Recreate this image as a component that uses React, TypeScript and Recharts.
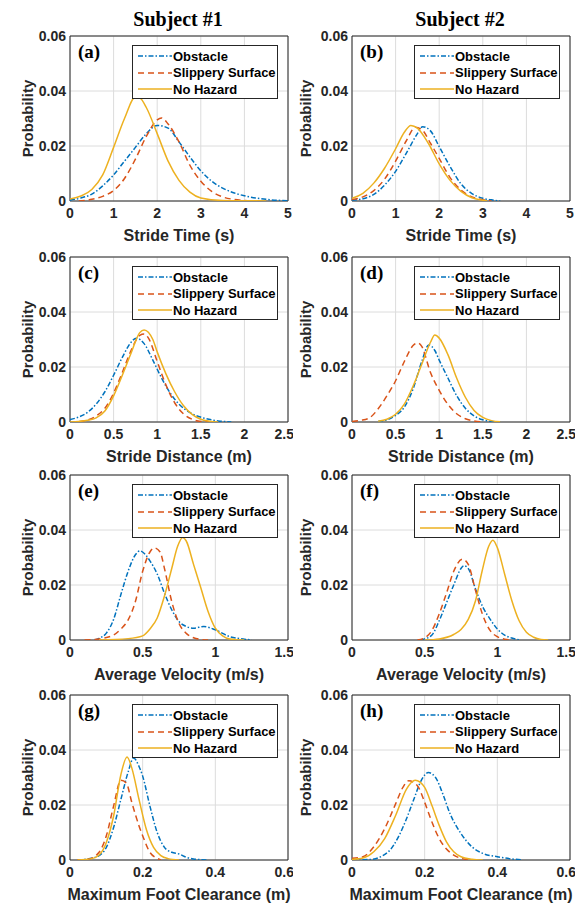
import React from "react";
import { LineChart, Line, XAxis, YAxis, CartesianGrid, ReferenceArea, Legend } from "recharts";

// ---- data: [x, probability] ----
const A_OBS = [[0, 0.0003], [0.25, 0.0011], [0.5, 0.0025], [0.75, 0.0055], [1, 0.0095], [1.25, 0.0145], [1.5, 0.0195], [1.75, 0.0245], [2, 0.0275], [2.25, 0.0265], [2.5, 0.0215], [2.75, 0.016], [3, 0.011], [3.25, 0.0072], [3.5, 0.0047], [3.75, 0.003], [4, 0.0019], [4.5, 0.0006], [5, 0.0001]];
const A_SLIP = [[0.2, 0], [0.5, 0.0006], [0.75, 0.0017], [1, 0.0038], [1.25, 0.0082], [1.5, 0.0152], [1.75, 0.0235], [2, 0.0295], [2.1, 0.0302], [2.25, 0.028], [2.5, 0.0215], [2.75, 0.013], [3, 0.0072], [3.25, 0.0035], [3.5, 0.0015], [3.75, 0.0006], [4, 0.0002], [4.4, 0]];
const A_NH = [[0, 0.0007], [0.25, 0.0018], [0.5, 0.0042], [0.75, 0.0095], [1, 0.0195], [1.25, 0.030], [1.5, 0.0378], [1.6, 0.0375], [1.75, 0.034], [2, 0.0245], [2.25, 0.0145], [2.5, 0.0075], [2.75, 0.0032], [3, 0.0011], [3.5, 0.0002], [4, 0.0001], [4.5, 0]];

const B_OBS = [[0, 0.0003], [0.25, 0.0008], [0.5, 0.0024], [0.75, 0.0058], [1, 0.0108], [1.25, 0.0175], [1.5, 0.0245], [1.62, 0.027], [1.8, 0.0255], [2, 0.0198], [2.25, 0.0125], [2.5, 0.0062], [2.75, 0.0027], [3, 0.001], [3.25, 0.0003], [3.4, 0]];
const B_SLIP = [[0, 0.0005], [0.25, 0.0015], [0.5, 0.0038], [0.75, 0.008], [1, 0.0145], [1.25, 0.022], [1.45, 0.0268], [1.6, 0.026], [1.8, 0.021], [2, 0.0155], [2.25, 0.0085], [2.5, 0.004], [2.75, 0.0015], [3, 0.0005], [3.2, 0]];
const B_NH = [[0, 0.001], [0.25, 0.0028], [0.5, 0.0065], [0.75, 0.012], [1, 0.019], [1.2, 0.025], [1.35, 0.0275], [1.5, 0.0265], [1.75, 0.021], [2, 0.0135], [2.25, 0.0075], [2.5, 0.0035], [2.75, 0.0012], [3, 0.0003], [3.1, 0]];

const C_OBS = [[0, 0.0009], [0.1, 0.0018], [0.2, 0.0035], [0.3, 0.0065], [0.4, 0.011], [0.5, 0.017], [0.6, 0.0235], [0.7, 0.029], [0.76, 0.0305], [0.85, 0.0285], [0.95, 0.0225], [1.05, 0.016], [1.15, 0.0105], [1.25, 0.0065], [1.4, 0.003], [1.55, 0.0013], [1.7, 0.0004], [1.85, 0]];
const C_SLIP = [[0.1, 0.0001], [0.2, 0.0007], [0.3, 0.0022], [0.4, 0.005], [0.5, 0.0105], [0.6, 0.018], [0.7, 0.026], [0.8, 0.0315], [0.85, 0.032], [0.9, 0.0305], [1, 0.022], [1.1, 0.0135], [1.2, 0.007], [1.3, 0.003], [1.4, 0.001], [1.5, 0.0002], [1.6, 0]];
const C_NH = [[0, 0], [0.1, 0.0002], [0.2, 0.0006], [0.3, 0.0015], [0.4, 0.004], [0.5, 0.0095], [0.6, 0.017], [0.7, 0.025], [0.8, 0.0325], [0.85, 0.0335], [0.95, 0.030], [1, 0.0255], [1.1, 0.0175], [1.2, 0.011], [1.3, 0.006], [1.4, 0.0028], [1.5, 0.001], [1.6, 0.0003], [1.7, 0]];

const D_OBS = [[0.3, 0.0002], [0.4, 0.0008], [0.5, 0.0024], [0.6, 0.0054], [0.7, 0.012], [0.8, 0.022], [0.88, 0.028], [0.95, 0.026], [1, 0.0225], [1.1, 0.016], [1.2, 0.0096], [1.3, 0.005], [1.4, 0.0022], [1.5, 0.0008], [1.6, 0.0002], [1.7, 0]];
const D_SLIP = [[0, 0.0002], [0.1, 0.0006], [0.2, 0.0015], [0.3, 0.0048], [0.4, 0.0095], [0.5, 0.015], [0.6, 0.022], [0.7, 0.0278], [0.75, 0.0288], [0.8, 0.0275], [0.9, 0.018], [1, 0.0115], [1.1, 0.0064], [1.2, 0.003], [1.3, 0.0012], [1.4, 0.0004], [1.5, 0]];
const D_NH = [[0.3, 0.0003], [0.4, 0.001], [0.5, 0.0028], [0.6, 0.0065], [0.7, 0.013], [0.8, 0.021], [0.9, 0.029], [0.95, 0.0316], [1, 0.0305], [1.1, 0.0245], [1.2, 0.016], [1.3, 0.009], [1.4, 0.0042], [1.5, 0.0017], [1.6, 0.0005], [1.7, 0.0001]];

const E_OBS = [[0.17, 0], [0.2, 0.0006], [0.25, 0.0025], [0.3, 0.0075], [0.35, 0.0165], [0.4, 0.025], [0.45, 0.031], [0.48, 0.0324], [0.52, 0.031], [0.55, 0.0288], [0.6, 0.024], [0.65, 0.017], [0.7, 0.011], [0.75, 0.0067], [0.8, 0.0049], [0.85, 0.0043], [0.92, 0.0049], [1, 0.0037], [1.1, 0.0012], [1.2, 0.0003], [1.25, 0]];
const E_SLIP = [[0.1, 0], [0.2, 0.0004], [0.3, 0.0018], [0.35, 0.004], [0.4, 0.0073], [0.45, 0.014], [0.5, 0.025], [0.55, 0.032], [0.58, 0.0335], [0.62, 0.032], [0.65, 0.026], [0.7, 0.014], [0.75, 0.006], [0.8, 0.0024], [0.85, 0.0008], [0.9, 0.0002], [0.95, 0]];
const E_NH = [[0.2, 0], [0.4, 0.0005], [0.5, 0.0015], [0.55, 0.004], [0.6, 0.008], [0.65, 0.016], [0.7, 0.026], [0.74, 0.034], [0.775, 0.0373], [0.8, 0.036], [0.85, 0.0275], [0.9, 0.019], [0.95, 0.0104], [1, 0.0043], [1.05, 0.0015], [1.1, 0.0004], [1.2, 0]];

const F_OBS = [[0.47, 0], [0.5, 0.0004], [0.55, 0.0018], [0.6, 0.007], [0.65, 0.0135], [0.7, 0.020], [0.75, 0.026], [0.77, 0.027], [0.8, 0.026], [0.85, 0.0185], [0.9, 0.012], [0.95, 0.0076], [1, 0.004], [1.05, 0.0018], [1.1, 0.0007], [1.15, 0.0001]];
const F_SLIP = [[0.45, 0], [0.5, 0.0008], [0.55, 0.0035], [0.6, 0.0095], [0.65, 0.017], [0.7, 0.025], [0.76, 0.0294], [0.8, 0.0275], [0.85, 0.018], [0.9, 0.009], [0.95, 0.0035], [1, 0.0012], [1.05, 0.0003], [1.1, 0]];
const F_NH = [[0.5, 0], [0.6, 0.0004], [0.7, 0.002], [0.75, 0.0038], [0.8, 0.0075], [0.85, 0.0143], [0.895, 0.025], [0.94, 0.034], [0.97, 0.0363], [1, 0.0336], [1.05, 0.024], [1.1, 0.0143], [1.15, 0.007], [1.2, 0.0028], [1.25, 0.001], [1.3, 0.0002], [1.35, 0]];

const G_OBS = [[0.02, 0], [0.05, 0.0004], [0.08, 0.0016], [0.1, 0.0046], [0.12, 0.0118], [0.14, 0.022], [0.16, 0.032], [0.175, 0.0371], [0.19, 0.034], [0.2, 0.0305], [0.22, 0.0196], [0.24, 0.010], [0.26, 0.0046], [0.28, 0.0028], [0.3, 0.0022], [0.32, 0.001], [0.34, 0.0004], [0.36, 0.0001], [0.38, 0]];
const G_SLIP = [[0.02, 0], [0.05, 0.0003], [0.08, 0.0028], [0.1, 0.0088], [0.12, 0.0196], [0.14, 0.029], [0.155, 0.028], [0.17, 0.021], [0.19, 0.0124], [0.2, 0.0088], [0.22, 0.0028], [0.24, 0.0006], [0.25, 0]];
const G_NH = [[0.02, 0], [0.06, 0.0005], [0.08, 0.0018], [0.1, 0.0064], [0.12, 0.016], [0.14, 0.031], [0.157, 0.0375], [0.17, 0.0335], [0.19, 0.022], [0.21, 0.0112], [0.23, 0.0046], [0.25, 0.0016], [0.27, 0.0005], [0.3, 0]];

const H_OBS = [[0, 0], [0.05, 0.0002], [0.1, 0.003], [0.13, 0.009], [0.15, 0.015], [0.17, 0.022], [0.19, 0.0288], [0.21, 0.0318], [0.23, 0.030], [0.25, 0.024], [0.27, 0.0168], [0.3, 0.0096], [0.33, 0.0048], [0.36, 0.0024], [0.4, 0.0012], [0.44, 0.0004], [0.47, 0]];
const H_SLIP = [[0, 0.0006], [0.03, 0.0012], [0.06, 0.0048], [0.09, 0.0114], [0.12, 0.0204], [0.14, 0.0264], [0.156, 0.0288], [0.18, 0.027], [0.2, 0.021], [0.22, 0.0138], [0.24, 0.0078], [0.26, 0.004], [0.28, 0.0018], [0.3, 0.0006], [0.33, 0]];
const H_NH = [[0, 0.0002], [0.03, 0.0007], [0.06, 0.003], [0.09, 0.0078], [0.12, 0.0162], [0.15, 0.0258], [0.174, 0.029], [0.2, 0.0264], [0.22, 0.0198], [0.24, 0.0126], [0.26, 0.0066], [0.28, 0.003], [0.3, 0.0012], [0.33, 0.0003], [0.36, 0]];

const Y_TICKS = [0, 0.02, 0.04, 0.06];
const TICKS_TIME = [0, 1, 2, 3, 4, 5];
const TICKS_DIST = [0, 0.5, 1, 1.5, 2, 2.5];
const TICKS_VEL = [0, 0.5, 1, 1.5];
const TICKS_CLR = [0, 0.2, 0.4, 0.6];

const SERIES = [
  { name: "Obstacle", color: "#0072BD", dash: "5 2 1.5 2" },
  { name: "Slippery Surface", color: "#D95319", dash: "6 4" },
  { name: "No Hazard", color: "#EDB120", dash: undefined as string | undefined },
];

const PANELS = [
  { tag: "(a)", col: 0, row: 0, ticks: TICKS_TIME, xLabel: "Stride Time (s)", curves: [A_OBS, A_SLIP, A_NH] },
  { tag: "(b)", col: 1, row: 0, ticks: TICKS_TIME, xLabel: "Stride Time (s)", curves: [B_OBS, B_SLIP, B_NH] },
  { tag: "(c)", col: 0, row: 1, ticks: TICKS_DIST, xLabel: "Stride Distance (m)", curves: [C_OBS, C_SLIP, C_NH] },
  { tag: "(d)", col: 1, row: 1, ticks: TICKS_DIST, xLabel: "Stride Distance (m)", curves: [D_OBS, D_SLIP, D_NH] },
  { tag: "(e)", col: 0, row: 2, ticks: TICKS_VEL, xLabel: "Average Velocity (m/s)", curves: [E_OBS, E_SLIP, E_NH] },
  { tag: "(f)", col: 1, row: 2, ticks: TICKS_VEL, xLabel: "Average Velocity (m/s)", curves: [F_OBS, F_SLIP, F_NH] },
  { tag: "(g)", col: 0, row: 3, ticks: TICKS_CLR, xLabel: "Maximum Foot Clearance (m)", curves: [G_OBS, G_SLIP, G_NH] },
  { tag: "(h)", col: 1, row: 3, ticks: TICKS_CLR, xLabel: "Maximum Foot Clearance (m)", curves: [H_OBS, H_SLIP, H_NH] },
];

const COL_LEFT = [0, 282];
const COL_YLABEL = [28, 24];
const ROW_TOP = [26, 247, 465, 685];

const SANS = "'Liberation Sans', Arial, Helvetica, sans-serif";
const SERIF = "'Liberation Serif', 'Times New Roman', serif";
const INK = "#262626";

const CW = 293;
const CH = 220;
const AXIS_W = 70;

function LegendBox() {
  return (
    <div style={{ width: 146, height: 54, boxSizing: "border-box", border: `1px solid ${INK}`, background: "#fff", paddingTop: 2, fontFamily: SANS, fontWeight: "bold", fontSize: 13, color: "#000" }}>
      {SERIES.map(s => (
        <div key={s.name} style={{ display: "flex", alignItems: "center", height: 16.5, whiteSpace: "nowrap" }}>
          <svg width={40} height={10} style={{ flexShrink: 0 }}>
            <line x1={5} x2={39} y1={5} y2={5} stroke={s.color} strokeWidth={1.5} strokeDasharray={s.dash} />
          </svg>
          <span>{s.name}</span>
        </div>
      ))}
    </div>
  );
}

function Panel({ p }: { p: (typeof PANELS)[number] }) {
  const xMax = p.ticks[p.ticks.length - 1];
  const plotRight = CW - 5;
  return (
    <div style={{ position: "absolute", left: COL_LEFT[p.col], top: ROW_TOP[p.row], width: CW, height: CH }}>
      <LineChart width={CW} height={CH} margin={{ top: 10, right: 5, left: 0, bottom: 0 }}>
        <CartesianGrid stroke="#dcdcdc" strokeWidth={1} />
        <XAxis
          type="number" dataKey="x" domain={[0, xMax]} ticks={p.ticks} allowDataOverflow
          height={45} tickSize={0} tickMargin={7} axisLine={false}
          tick={{ fontFamily: SANS, fontSize: 14, fontWeight: "bold", fill: INK }}
          label={{ value: p.xLabel, position: "insideBottom", offset: 5, style: { fontFamily: SANS, fontSize: 16, fontWeight: "bold", fill: INK } }}
        />
        <YAxis
          type="number" domain={[0, 0.06]} ticks={Y_TICKS} allowDataOverflow
          width={AXIS_W} tickSize={0} tickMargin={4} axisLine={false}
          tick={{ fontFamily: SANS, fontSize: 14, fontWeight: "bold", fill: INK }}
          label={{ value: "Probability", angle: -90, position: "insideLeft", offset: COL_YLABEL[p.col], style: { fontFamily: SANS, fontSize: 15, fontWeight: "bold", fill: INK, textAnchor: "middle" } }}
        />
        <ReferenceArea x1={0} x2={xMax} y1={0} y2={0.06} fill="none" stroke={INK} strokeWidth={1} />
        {p.curves.map((c, i) => (
          <Line
            key={SERIES[i].name}
            data={c.map(([x, y]) => ({ x, y }))}
            dataKey="y" type="monotone" name={SERIES[i].name}
            stroke={SERIES[i].color} strokeWidth={1.5} strokeDasharray={SERIES[i].dash}
            dot={false} activeDot={false} isAnimationActive={false}
          />
        ))}
        <Legend
          layout="horizontal" verticalAlign="middle" align="center"
          content={() => <LegendBox />}
          wrapperStyle={{ left: plotRight - 10 - 146, top: 19, width: 146, height: 54 }}
        />
      </LineChart>
      <div style={{ position: "absolute", left: AXIS_W + 8, top: 16, fontFamily: SERIF, fontWeight: "bold", fontSize: 19, lineHeight: "20px", color: "#000" }}>
        {p.tag}
      </div>
    </div>
  );
}

export default function App() {
  return (
    <div style={{ position: "absolute", left: 0, top: 0, width: 586, height: 905, background: "#fff", overflow: "hidden" }}>
      <div style={{ position: "absolute", left: 78, width: 200, top: 7, textAlign: "center", fontFamily: SERIF, fontWeight: "bold", fontSize: 20, lineHeight: "24px" }}>Subject #1</div>
      <div style={{ position: "absolute", left: 360, width: 200, top: 7, textAlign: "center", fontFamily: SERIF, fontWeight: "bold", fontSize: 20, lineHeight: "24px" }}>Subject #2</div>
      {PANELS.map(p => <Panel key={p.tag} p={p} />)}
    </div>
  );
}
